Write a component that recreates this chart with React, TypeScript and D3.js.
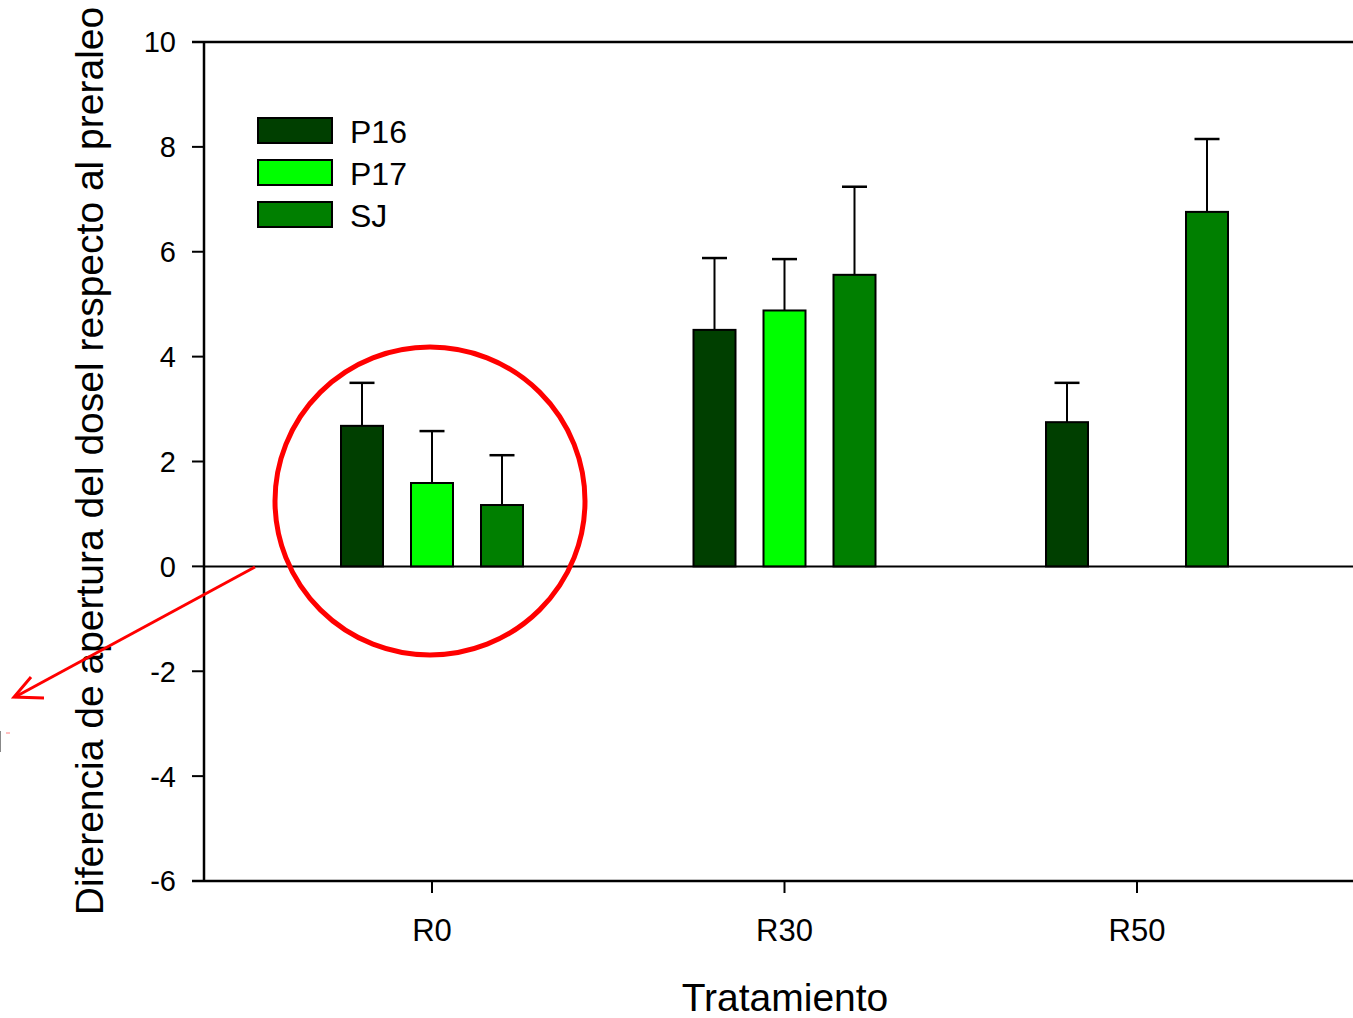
import React from "react";
import * as d3 from "d3";

const categories = ["R0", "R30", "R50"];
const seriesNames = ["P16", "P17", "SJ"];
const seriesColors = ["#003f00", "#00ff00", "#007f00"];
const P16 = [2.68, 4.51, 2.75];
const P16err = [0.82, 1.37, 0.75];
const P17: (number | null)[] = [1.59, 4.88, null];
const P17err: (number | null)[] = [0.99, 0.98, null];
const SJ = [1.17, 5.56, 6.76];
const SJerr = [0.95, 1.68, 1.39];
const yTicks = [-6, -4, -2, 0, 2, 4, 6, 8, 10];

const W = 1353;
const H = 1018;
const left = 204, right = 1353, top = 42, bottom = 881;

export default function App() {
  const y = d3.scaleLinear().domain([-6, 10]).range([bottom, top]);
  const x = d3.scalePoint<string>().domain(categories).range([432, 1137]);
  const inner = d3.scaleBand<string>().domain(seriesNames).range([-105, 105]).paddingInner(0.4).paddingOuter(0.2);
  const values = [P16, P17, SJ];
  const errs = [P16err, P17err, SJerr];
  const font = "Arial, 'Liberation Sans', sans-serif";
  const bw = inner.bandwidth();

  return (
    <svg width={W} height={H} style={{ position: "absolute", left: 0, top: 0, background: "#fff" }}>
      <rect x={0} y={0} width={W} height={H} fill="#fff" />
      {/* frame */}
      <line x1={192} x2={right} y1={top} y2={top} stroke="#000" strokeWidth={2.5} />
      <line x1={left} x2={left} y1={top} y2={bottom} stroke="#000" strokeWidth={2.5} />
      <line x1={192} x2={right} y1={bottom} y2={bottom} stroke="#000" strokeWidth={2.5} />
      <line x1={left} x2={right} y1={y(0)} y2={y(0)} stroke="#000" strokeWidth={2} />
      {/* y ticks */}
      {yTicks.map((t) => (
        <g key={t}>
          <line x1={192} x2={left} y1={y(t)} y2={y(t)} stroke="#000" strokeWidth={2} />
          <text x={176} y={y(t)} dy="0.36em" textAnchor="end" fontFamily={font} fontSize={29} fill="#000">
            {t}
          </text>
        </g>
      ))}
      {/* x ticks */}
      {categories.map((c) => (
        <g key={c}>
          <line x1={x(c)} x2={x(c)} y1={bottom} y2={bottom + 12} stroke="#000" strokeWidth={2} />
          <text x={x(c)} y={941} textAnchor="middle" fontFamily={font} fontSize={31} fill="#000">
            {c}
          </text>
        </g>
      ))}
      {/* bars */}
      {categories.map((c, ci) =>
        seriesNames.map((s, si) => {
          const v = values[si][ci];
          const e = errs[si][ci];
          if (v == null) return null;
          const bx = (x(c) as number) + (inner(s) as number);
          const cx = bx + bw / 2;
          return (
            <g key={c + s}>
              {e != null && (
                <>
                  <line x1={cx} x2={cx} y1={y(v)} y2={y(v + e)} stroke="#000" strokeWidth={2} />
                  <line x1={cx - 12.5} x2={cx + 12.5} y1={y(v + e)} y2={y(v + e)} stroke="#000" strokeWidth={2.5} />
                </>
              )}
              <rect x={bx} y={y(v)} width={bw} height={y(0) - y(v)} fill={seriesColors[si]} stroke="#000" strokeWidth={2} />
            </g>
          );
        })
      )}
      {/* legend */}
      {seriesNames.map((s, i) => (
        <g key={s}>
          <rect x={258} y={118 + i * 42} width={74} height={25} fill={seriesColors[i]} stroke="#000" strokeWidth={2} />
          <text x={350} y={131 + i * 42} dy="0.36em" fontFamily={font} fontSize={32} fill="#000">
            {s}
          </text>
        </g>
      ))}
      {/* axis titles */}
      <text
        transform={`translate(103, 461) rotate(-90)`}
        textAnchor="middle"
        fontFamily={font}
        fontSize={39}
        fill="#000"
      >
        Diferencia de apertura del dosel respecto al preraleo
      </text>
      <text x={785} y={1011} textAnchor="middle" fontFamily={font} fontSize={39} fill="#000">
        Tratamiento
      </text>
      {/* annotations */}
      <ellipse cx={430} cy={501} rx={155} ry={154} fill="none" stroke="#ff0000" strokeWidth={5} />
      <line x1={255} y1={567} x2={15} y2={697} stroke="#ff0000" strokeWidth={3} />
      <polyline points="31,677 14,697 44,698" fill="none" stroke="#ff0000" strokeWidth={3} />
      <line x1={0.5} x2={0.5} y1={731} y2={752} stroke="#888" strokeWidth={1} />
      <line x1={6} x2={10} y1={733} y2={733} stroke="#ff8080" strokeWidth={1} />
    </svg>
  );
}
